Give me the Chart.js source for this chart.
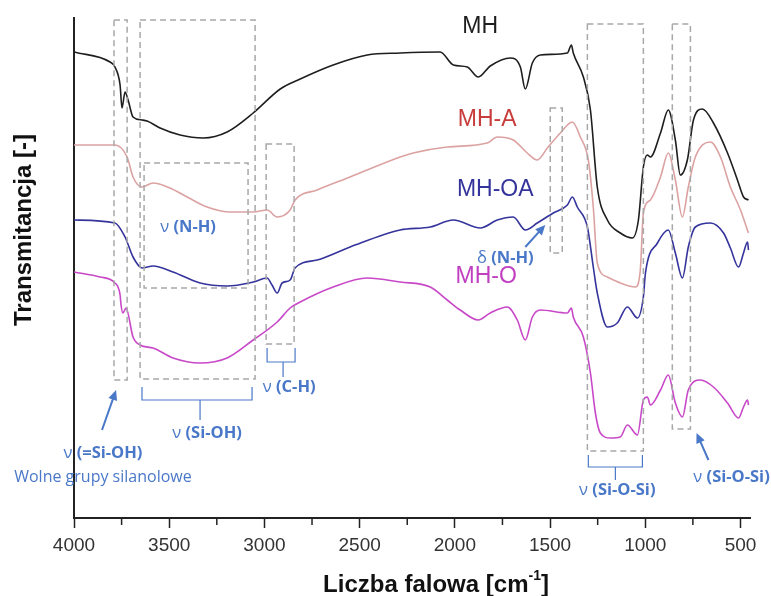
<!DOCTYPE html>
<html>
<head>
<meta charset="utf-8">
<script src="https://cdn.jsdelivr.net/npm/chart.js@4.4.1/dist/chart.umd.min.js"></script>
<style>
    html, body { margin: 0; padding: 0; background: #fff; }
    #wrap { width: 771px; height: 596px; }
</style>
</head>
<body>
<div id="wrap"><canvas id="ftir-chart" width="771" height="596"></canvas></div>
<script>
// liczba falowa [cm-1] / transmitancja (jednostki umowne, krzywe przesunięte)
const mhWave = [4000, 3811, 3785, 3758, 3748, 3732, 3716, 3690, 3643, 3616, 3548, 3443, 3322, 3196, 3059, 2917, 2812, 2639, 2460, 2287, 2077, 2008, 1935, 1877, 1814, 1709, 1656, 1630, 1593, 1551, 1409, 1388, 1378, 1325, 1288, 1252, 1199, 1131, 1068, 1036, 1010, 989, 973, 920, 879, 842, 816, 779, 747, 700, 642, 568, 516, 484, 458];
const mhValues = [93.2, 91.2, 90.2, 86.6, 82.0, 85.2, 83.6, 80.2, 79.6, 79.4, 78.0, 76.6, 76.0, 77.2, 81.0, 85.8, 87.8, 90.6, 92.6, 93.0, 93.2, 90.6, 90.2, 88.2, 90.4, 92.0, 90.2, 85.8, 91.0, 92.6, 93.0, 94.6, 93.0, 88.2, 81.6, 66.2, 59.6, 57.0, 56.0, 59.6, 70.2, 72.6, 72.2, 77.0, 81.6, 75.6, 68.6, 71.6, 79.6, 81.8, 79.0, 73.0, 67.6, 64.2, 63.6];

const mhaWave = [4000, 3785, 3721, 3690, 3643, 3585, 3496, 3406, 3301, 3180, 3059, 2986, 2933, 2865, 2839, 2723, 2550, 2287, 2219, 2040, 1830, 1777, 1693, 1620, 1567, 1514, 1446, 1383, 1341, 1299, 1273, 1252, 1199, 1131, 1052, 1026, 1010, 973, 920, 879, 842, 805, 774, 737, 658, 605, 553, 500, 458];
const mhaValues = [74.6, 74.6, 72.2, 68.2, 66.2, 67.0, 66.0, 64.2, 62.2, 61.2, 61.2, 61.6, 60.2, 61.6, 63.6, 65.6, 68.2, 72.2, 73.0, 74.2, 75.0, 76.2, 75.6, 73.0, 71.6, 74.0, 77.0, 79.2, 76.2, 71.6, 62.2, 51.0, 48.2, 47.0, 46.2, 49.6, 61.0, 63.6, 68.2, 73.0, 67.6, 60.2, 66.2, 72.2, 75.2, 72.2, 66.2, 61.6, 57.0];

const mhoaWave = [4000, 3785, 3732, 3690, 3643, 3585, 3480, 3338, 3196, 3059, 2986, 2960, 2933, 2907, 2865, 2839, 2723, 2550, 2287, 2129, 2008, 1866, 1777, 1693, 1630, 1567, 1483, 1409, 1383, 1357, 1304, 1273, 1252, 1199, 1147, 1094, 1041, 1010, 999, 936, 879, 842, 805, 774, 737, 658, 589, 553, 510, 484, 463, 458];
const mhoaValues = [59.6, 59.0, 56.2, 52.2, 50.0, 50.4, 49.2, 47.0, 46.4, 47.2, 48.0, 46.6, 45.0, 47.0, 47.6, 50.0, 51.6, 54.2, 57.6, 58.2, 59.6, 58.0, 59.6, 60.2, 57.6, 59.0, 61.0, 62.6, 64.2, 62.2, 58.2, 50.2, 45.0, 38.2, 39.0, 42.2, 40.0, 44.2, 49.0, 55.0, 57.6, 53.0, 48.0, 54.2, 58.2, 59.0, 57.0, 54.0, 50.2, 53.0, 55.2, 53.6];

const mhoWave = [4000, 3863, 3785, 3758, 3753, 3743, 3727, 3690, 3653, 3585, 3480, 3338, 3196, 3059, 2933, 2865, 2812, 2639, 2460, 2287, 2129, 2040, 1972, 1877, 1814, 1725, 1672, 1630, 1593, 1551, 1409, 1388, 1378, 1325, 1288, 1262, 1236, 1183, 1131, 1094, 1041, 1010, 989, 973, 920, 879, 842, 805, 774, 710, 642, 568, 510, 484, 463, 458];
const mhoValues = [49.2, 48.2, 47.0, 44.6, 42.6, 41.0, 42.0, 36.2, 34.6, 34.0, 32.0, 31.0, 32.0, 35.6, 39.2, 42.0, 43.2, 46.2, 48.0, 47.2, 46.2, 43.6, 41.6, 39.6, 41.0, 42.2, 39.6, 35.6, 40.2, 41.6, 41.0, 42.0, 40.2, 36.2, 29.0, 21.0, 17.0, 16.0, 16.2, 18.6, 16.6, 23.6, 24.2, 22.6, 25.6, 28.6, 23.0, 20.2, 25.6, 27.6, 26.2, 23.0, 20.0, 22.2, 23.6, 22.6];

const seriesNames = ['MH', 'MH-A', 'MH-OA', 'MH-O'];
const seriesColors = ['#1e1e1e', '#dca2a2', '#34349c', '#c848c8'];
const labelColors = ['#1e1e1e', '#c83c3c', '#34349c', '#c040c0'];
const labelPos = [[1867, 98.2], [1830, 79.6], [1788, 65.6], [1835, 48.2]];

const majorTicks = [4000, 3500, 3000, 2500, 2000, 1500, 1000, 500];
const minorTicks = [3750, 3250, 2750, 2250, 1750, 1250, 750];

// ramki przerywane: [od, do, góra, dół]
const dashedBoxes = [
    [3790, 3721, 99.6, 27.6],
    [3653, 3049, 99.6, 27.8],
    [3632, 3086, 71.0, 46.0],
    [2991, 2844, 74.8, 34.8],
    [1499, 1436, 82.0, 53.0],
    [1304, 1010, 98.8, 13.4],
    [858, 763, 98.8, 17.8]
];
// klamry: [od, do, góra, poziom, środek, koniec]
const brackets = [
    [3643, 3065, 26.2, 23.6, 3338, 19.6],
    [2986, 2839, 34.0, 31.2, 2902, 28.2],
    [1299, 1015, 12.6, 10.2, 1157, 7.6]
];
const arrows = [
    [3853, 17.6, 3779, 25.6],
    [1630, 54.2, 1525, 58.6],
    [668, 11.6, 731, 17.0]
];
const notes = [
    ['ν ', '(N-H)', 3401, 58.2],
    ['ν ', '(C-H)', 2870, 26.2],
    ['ν ', '(Si-OH)', 3301, 17.0],
    ['ν ', '(=Si-OH)', 3848, 13.0],
    ['ν ', '(Si-O-Si)', 1147, 5.6],
    ['ν ', '(Si-O-Si)', 547, 8.2],
    ['δ ', '(N-H)', 1735, 52.0]
];

const blue = '#4a78c8';

function toPoints(wave, vals) {
    return wave.map((w, i) => ({x: w, y: vals[i]}));
}

const annotationsPlugin = {
    id: 'annotations',
    afterDatasetsDraw(chart) {
        const ctx = chart.ctx;
        const xs = chart.scales.x;
        const ys = chart.scales.y;
        const px = v => xs.getPixelForValue(v);
        const py = v => ys.getPixelForValue(v);

        ctx.save();

        // ramki
        ctx.strokeStyle = '#a8a8a8';
        ctx.lineWidth = 1.5;
        ctx.setLineDash([6, 4]);
        dashedBoxes.forEach(b => {
            ctx.strokeRect(px(b[0]), py(b[2]), px(b[1]) - px(b[0]), py(b[3]) - py(b[2]));
        });
        ctx.setLineDash([]);

        // klamry
        ctx.strokeStyle = blue;
        ctx.lineWidth = 1.2;
        brackets.forEach(b => {
            ctx.beginPath();
            ctx.moveTo(px(b[0]), py(b[2]));
            ctx.lineTo(px(b[0]), py(b[3]));
            ctx.lineTo(px(b[1]), py(b[3]));
            ctx.lineTo(px(b[1]), py(b[2]));
            ctx.moveTo(px(b[4]), py(b[3]));
            ctx.lineTo(px(b[4]), py(b[5]));
            ctx.stroke();
        });

        // strzałki
        ctx.lineWidth = 2;
        ctx.fillStyle = blue;
        arrows.forEach(a => {
            const x1 = px(a[0]), y1 = py(a[1]), x2 = px(a[2]), y2 = py(a[3]);
            const ang = Math.atan2(y2 - y1, x2 - x1);
            ctx.beginPath();
            ctx.moveTo(x1, y1);
            ctx.lineTo(x2 - 7 * Math.cos(ang), y2 - 7 * Math.sin(ang));
            ctx.stroke();
            ctx.beginPath();
            ctx.moveTo(x2, y2);
            ctx.lineTo(x2 - 10 * Math.cos(ang) + 4.5 * Math.sin(ang), y2 - 10 * Math.sin(ang) - 4.5 * Math.cos(ang));
            ctx.lineTo(x2 - 10 * Math.cos(ang) - 4.5 * Math.sin(ang), y2 - 10 * Math.sin(ang) + 4.5 * Math.cos(ang));
            ctx.closePath();
            ctx.fill();
        });

        // opisy pasm
        ctx.textBaseline = 'middle';
        ctx.textAlign = 'left';
        const fNorm = '16.5px "Open Sans"';
        const fBold = 'bold 16.5px "Open Sans"';
        notes.forEach(n => {
            ctx.font = fNorm;
            const w1 = ctx.measureText(n[0]).width;
            ctx.font = fBold;
            const w2 = ctx.measureText(n[1]).width;
            const x0 = px(n[2]) - (w1 + w2) / 2;
            ctx.font = fNorm;
            ctx.fillText(n[0], x0, py(n[3]));
            ctx.font = fBold;
            ctx.fillText(n[1], x0 + w1, py(n[3]));
        });
        ctx.textAlign = 'center';
        ctx.font = '16px "Open Sans"';
        ctx.fillText('Wolne grupy silanolowe', px(3848), py(8.2));

        // nazwy próbek
        ctx.font = '23px "Liberation Sans"';
        seriesNames.forEach((name, i) => {
            ctx.fillStyle = labelColors[i];
            ctx.fillText(name, px(labelPos[i][0]), py(labelPos[i][1]));
        });

        // drobne kreski osi x
        ctx.strokeStyle = '#222';
        ctx.lineWidth = 1.5;
        minorTicks.forEach(t => {
            ctx.beginPath();
            ctx.moveTo(px(t), ys.bottom);
            ctx.lineTo(px(t), ys.bottom + 7);
            ctx.stroke();
        });

        // tytuły osi
        ctx.fillStyle = '#111';
        ctx.font = 'bold 24px "Liberation Sans"';
        ctx.save();
        ctx.translate(24, 230);
        ctx.rotate(-Math.PI / 2);
        ctx.textAlign = 'center';
        ctx.textBaseline = 'middle';
        ctx.fillText('Transmitancja [-]', 0, 0);
        ctx.restore();

        const main = 'Liczba falowa [cm';
        const sup = '-1';
        ctx.font = 'bold 24px "Liberation Sans"';
        const wMain = ctx.measureText(main).width;
        const wBr = ctx.measureText(']').width;
        ctx.font = 'bold 14px "Liberation Sans"';
        const wSup = ctx.measureText(sup).width;
        let x0 = 436 - (wMain + wSup + wBr) / 2;
        ctx.textAlign = 'left';
        ctx.textBaseline = 'alphabetic';
        ctx.font = 'bold 24px "Liberation Sans"';
        ctx.fillText(main, x0, 592);
        ctx.font = 'bold 14px "Liberation Sans"';
        ctx.fillText(sup, x0 + wMain, 580);
        ctx.font = 'bold 24px "Liberation Sans"';
        ctx.fillText(']', x0 + wMain + wSup, 592);

        ctx.restore();
    }
};

const datasets = [
    [mhWave, mhValues],
    [mhaWave, mhaValues],
    [mhoaWave, mhoaValues],
    [mhoWave, mhoValues]
].map((d, i) => ({
    label: seriesNames[i],
    data: toPoints(d[0], d[1]),
    borderColor: seriesColors[i],
    borderWidth: 1.6,
    pointRadius: 0,
    cubicInterpolationMode: 'monotone',
    fill: false
}));

new Chart(document.getElementById('ftir-chart'), {
    type: 'line',
    data: {datasets: datasets},
    options: {
        responsive: false,
        animation: false,
        layout: {padding: {left: 74, right: 21, top: 18, bottom: 0}},
        plugins: {legend: {display: false}, tooltip: {enabled: false}},
        scales: {
            x: {
                type: 'linear',
                reverse: true,
                min: 450,
                max: 4000,
                afterBuildTicks: scale => {
                    scale.ticks = majorTicks.map(v => ({value: v}));
                },
                afterFit: scale => {
                    scale.height = 78;
                },
                grid: {drawOnChartArea: false, tickLength: 10, tickWidth: 1.5, tickColor: '#222'},
                border: {color: '#222', width: 2},
                ticks: {
                    color: '#333',
                    padding: 6,
                    maxRotation: 0,
                    autoSkip: false,
                    font: {family: '"Liberation Sans"', size: 19},
                    callback: v => String(v)
                }
            },
            y: {
                min: 0,
                max: 100,
                afterFit: scale => {
                    scale.width = 0;
                },
                grid: {display: false},
                border: {color: '#222', width: 2},
                ticks: {display: false}
            }
        }
    },
    plugins: [annotationsPlugin]
});
</script>
</body>
</html>
